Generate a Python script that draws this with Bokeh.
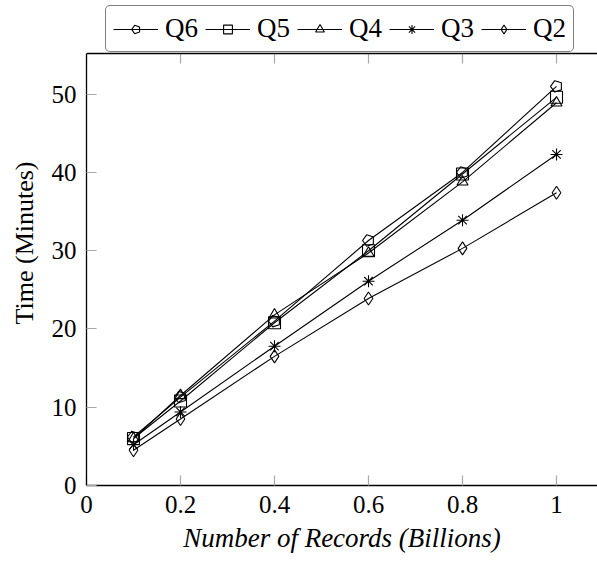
import math
from bokeh.plotting import figure
from bokeh.models import (Legend, LegendItem, FixedTicker, Span,
                          CustomJSTickFormatter, Range1d)
from bokeh.embed import file_html
from bokeh.resources import INLINE

# Query run times (minutes) against data size (billions of records)
records = [0.1, 0.2, 0.4, 0.6, 0.8, 1.0]
q6 = [6.2, 11.3, 21.0, 31.3, 40.0, 51.0]
q5 = [6.0, 10.8, 20.8, 30.0, 39.8, 49.6]
q4 = [6.0, 11.5, 21.8, 29.7, 38.8, 48.9]
q3 = [5.2, 9.4, 17.8, 26.1, 33.9, 42.3]
q2 = [4.5, 8.5, 16.5, 23.9, 30.3, 37.4]

series_names = ["Q6", "Q5", "Q4", "Q3", "Q2"]
x_ticks = [0, 0.2, 0.4, 0.6, 0.8, 1]
y_ticks = [0, 10, 20, 30, 40, 50]
Y_TOP = 55.2          # upper edge of the axis box
Y_VIEW = 61.97        # extra room above the box for the legend

SERIF = "Liberation Serif"
TICK_GRAY = "#a8a8a8"

p = figure(width=597, height=565, output_backend="svg", toolbar_location=None,
           x_range=Range1d(0, 1.0872), y_range=Range1d(0, Y_VIEW),
           min_border_left=86, min_border_right=0, min_border_top=0,
           min_border_bottom=80)
p.outline_line_color = None
p.xgrid.visible = False
p.ygrid.visible = False
p.background_fill_color = "white"
p.border_fill_color = "white"

fmt = CustomJSTickFormatter(code="return Number(tick.toFixed(1)).toString();")

for ax in (p.xaxis[0], p.yaxis[0]):
    ax.axis_line_color = "black"
    ax.axis_line_width = 1.3
    ax.major_tick_in = 10
    ax.major_tick_out = 0
    ax.major_tick_line_color = TICK_GRAY
    ax.major_tick_line_width = 1.2
    ax.minor_tick_line_color = None
    ax.major_label_text_font = SERIF
    ax.major_label_text_font_size = "25px"
    ax.major_label_text_color = "black"
    ax.major_label_standoff = 10
    ax.axis_label_text_font = SERIF
    ax.axis_label_text_font_size = "26px"
    ax.axis_label_text_color = "black"

p.xaxis.ticker = FixedTicker(ticks=x_ticks)
p.xaxis.formatter = fmt
p.yaxis.ticker = FixedTicker(ticks=y_ticks)
p.yaxis.bounds = (0, Y_TOP)
p.xaxis.axis_label = "Number of Records (Billions)"
p.xaxis.axis_label_text_font_style = "italic"
p.xaxis.axis_label_text_font_size = "27px"
p.xaxis.axis_label_standoff = 7
p.yaxis.axis_label = "Time (Minutes)"
p.yaxis.axis_label_text_font_style = "normal"
p.yaxis.axis_label_standoff = 10

# top edge of the axis box with inward gray ticks
p.add_layout(Span(location=Y_TOP, dimension="width", line_color="black",
                  line_width=1.3))
p.ray(x=x_ticks, y=[Y_TOP] * len(x_ticks), length=10, length_units="screen",
      angle=-math.pi / 2, line_color=TICK_GRAY, line_width=1.2)

series = [q6, q5, q4, q3, q2]
markers = ["pentagon", "square", "triangle", "asterisk", "diamond"]
sizes = [11, 12, 11, 12, 13]

items = []
for name, vals, mk, sz in zip(series_names, series, markers, sizes):
    ln = p.line(records, vals, line_color="black", line_width=1.1)
    if mk == "pentagon":
        try:
            mr = p.ngon(records, vals, radius=6, radius_units="screen", n=5,
                        angle=math.pi / 2, fill_color=None, line_color="black",
                        line_width=1.1)
        except Exception:
            mr = p.scatter(records, vals, marker="hex", size=sz,
                           fill_color=None, line_color="black", line_width=1.1)
    else:
        mr = p.scatter(records, vals, marker=mk, size=sz, fill_color=None,
                       line_color="black", line_width=1.1)
    items.append(LegendItem(label=name, renderers=[ln, mr]))

# legend box sits right above the axis box (screen offset from bottom-left)
legend = Legend(items=items, orientation="horizontal", location=(19, 433),
                label_text_font=SERIF, label_text_font_size="27px",
                label_text_color="black", glyph_width=45, glyph_height=22,
                label_standoff=7, spacing=7, padding=7, margin=0,
                border_line_color="black", border_line_width=1.2,
                background_fill_color="white", background_fill_alpha=1.0)
try:
    legend.border_radius = 5
except Exception:
    pass
p.add_layout(legend, "center")

open("out.html", "w").write(file_html(p, INLINE))
